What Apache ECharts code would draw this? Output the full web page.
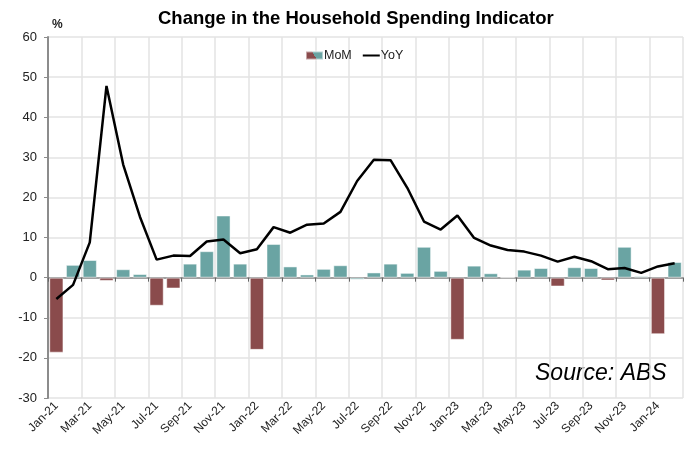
<!DOCTYPE html>
<html>
<head>
<meta charset="utf-8">
<script src="https://cdn.jsdelivr.net/npm/echarts@6/dist/echarts.min.js"></script>
<style>
  html, body { margin: 0; padding: 0; background: #fff; }
  #chart { width: 685px; height: 450px; }
</style>
</head>
<body>
<div id="chart"></div>
<script>
// months Jan-21 .. Feb-24
const months = [
  'Jan-21', 'Feb-21', 'Mar-21', 'Apr-21', 'May-21', 'Jun-21', 'Jul-21', 'Aug-21', 'Sep-21', 'Oct-21', 'Nov-21', 'Dec-21',
  'Jan-22', 'Feb-22', 'Mar-22', 'Apr-22', 'May-22', 'Jun-22', 'Jul-22', 'Aug-22', 'Sep-22', 'Oct-22', 'Nov-22', 'Dec-22',
  'Jan-23', 'Feb-23', 'Mar-23', 'Apr-23', 'May-23', 'Jun-23', 'Jul-23', 'Aug-23', 'Sep-23', 'Oct-23', 'Nov-23', 'Dec-23',
  'Jan-24', 'Feb-24'
]

// month on month change, %
const mom = [
  -18.7, 3.2, 4.4, -0.8, 2.1, 0.9, -7.0, -2.7, 3.5, 6.6, 15.5, 3.5,
  -18.0, 8.4, 2.8, 0.8, 2.2, 3.1, -0.5, 1.3, 3.5, 1.2, 7.7, 1.7,
  -15.5, 3.0, 1.1, 0, 2.0, 2.4, -2.2, 2.6, 2.4, -0.7, 7.7, 0.4,
  -14.1, 3.9
]

// year on year change, %
const yoy = [
  -5.3, -1.8, 8.8, 47.8, 28.2, 15.2, 4.5, 5.5, 5.4, 9.0, 9.5, 6.1,
  7.1, 12.6, 11.2, 13.2, 13.5, 16.4, 24.1, 29.4, 29.3, 22.4, 14.0, 12.0,
  15.5, 9.9, 8.0, 6.9, 6.5, 5.5, 4.0, 5.2, 4.1, 2.1, 2.4, 1.2,
  2.8, 3.6
]

const TEAL = '#6aa4a3'
const RED = '#8a4b4c'
const FONT = 'Arial, "Liberation Sans", sans-serif'

const chart = echarts.init(document.getElementById('chart'))

const option = {
  animation: false,
  textStyle: { fontFamily: FONT },
  title: {
    text: 'Change in the Household Spending Indicator',
    left: 153,
    top: 4,
    textStyle: { fontSize: 18.5, fontWeight: 'bold', color: '#000', fontFamily: FONT }
  },
  legend: {
    top: 44,
    left: 300,
    itemWidth: 17,
    itemHeight: 8,
    itemGap: 10,
    textStyle: { fontSize: 12.5, color: '#222', fontFamily: FONT, padding: [0, 0, 0, -4] },
    data: [
      {
        name: 'MoM',
        icon: 'rect',
        itemStyle: {
          color: new echarts.graphic.LinearGradient(0, 1, 1, 0, [
            { offset: 0, color: RED }, { offset: 0.5, color: RED },
            { offset: 0.5, color: TEAL }, { offset: 1, color: TEAL }
          ])
        }
      },
      {
        name: 'YoY',
        itemStyle: { color: 'rgba(0,0,0,0)', borderColor: 'rgba(0,0,0,0)', borderWidth: 0, opacity: 0 },
        lineStyle: { color: '#000', width: 2 }
      }
    ]
  },
  graphic: [
    {
      type: 'text', left: 52, top: 19,
      style: { text: '%', fontSize: 12, fontWeight: 'bold', fill: '#222', fontFamily: FONT }
    },
    {
      type: 'text', left: 535, top: 362,
      style: { text: 'Source: ABS', fontSize: 23, fontStyle: 'italic', fill: '#000', fontFamily: FONT }
    }
  ],
  grid: { left: 48, right: 2, top: 37, bottom: 52 },
  xAxis: [
    {
      type: 'category',
      data: months,
      position: 'bottom',
      axisLine: { show: false, onZero: false },
      axisTick: { show: false },
      axisLabel: { interval: 1, rotate: 45, fontSize: 12, color: '#222', margin: 6 },
      splitLine: { show: true, interval: 1, lineStyle: { color: '#e3e3e3', width: 1.5 } }
    },
    {
      type: 'category',
      data: months,
      position: 'top',
      axisLine: { show: true, onZero: true, lineStyle: { color: '#888', width: 1.5 } },
      axisTick: { show: true, inside: true, interval: 1, length: 4, lineStyle: { color: '#666' } },
      axisLabel: { show: false },
      splitLine: { show: false }
    }
  ],
  yAxis: {
    type: 'value',
    min: -30,
    max: 60,
    interval: 10,
    axisLine: { show: true, lineStyle: { color: '#8c8c8c', width: 2 } },
    axisTick: { show: true, length: 4, lineStyle: { color: '#8c8c8c' } },
    axisLabel: { fontSize: 13, color: '#222', margin: 11 },
    splitLine: { lineStyle: { color: '#e3e3e3', width: 1.5 } }
  },
  series: [
    {
      name: 'MoM',
      type: 'bar',
      data: mom,
      barCategoryGap: '15%',
      itemStyle: {
        color: (p) => (p.value < -0.6 ? RED : TEAL),
        borderColor: 'rgba(255,255,255,0.5)',
        borderWidth: 1
      }
    },
    {
      name: 'YoY',
      type: 'line',
      data: yoy,
      symbol: 'none',
      lineStyle: { color: '#000', width: 2.5 },
      itemStyle: { color: '#000' }
    }
  ]
}

chart.setOption(option)
</script>
</body>
</html>
